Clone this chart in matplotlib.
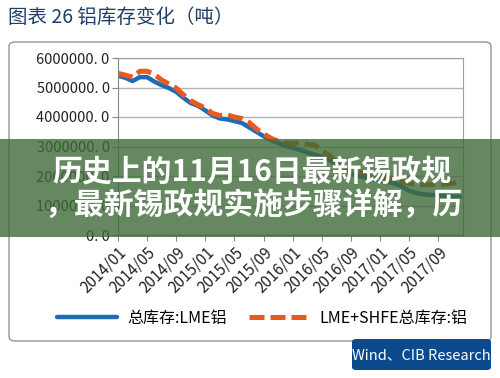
import matplotlib
matplotlib.use("Agg")
import matplotlib.pyplot as plt
from matplotlib.patches import FancyBboxPatch, Rectangle

plt.rcParams['font.family'] = ['Noto Sans CJK SC', 'DejaVu Sans']

# monthly values, 2014/01 .. 2017/12 (tons)
months = list(range(48))
lme = [5.40, 5.33, 5.22, 5.35, 5.35, 5.20, 5.08, 4.98, 4.85, 4.65, 4.47, 4.38,
       4.22, 4.05, 3.95, 3.92, 3.86, 3.80, 3.65, 3.50, 3.35, 3.22, 3.12, 3.02,
       2.95, 2.88, 2.80, 2.73, 2.65, 2.55, 2.42, 2.25, 2.08, 2.00, 1.95, 1.90,
       1.85, 1.80, 1.75, 1.65, 1.50, 1.42, 1.38, 1.36, 1.35, 1.33, 1.30, 1.30]
lme_shfe = [5.48, 5.42, 5.35, 5.55, 5.55, 5.45, 5.25, 5.12, 4.98, 4.75, 4.55, 4.42,
            4.30, 4.12, 4.05, 4.07, 4.00, 3.95, 3.82, 3.60, 3.43, 3.28, 3.18, 3.12,
            3.10, 3.12, 3.08, 3.05, 2.85, 2.70, 2.48, 2.28, 2.15, 2.12, 2.10, 2.05,
            2.00, 1.95, 1.90, 1.82, 1.75, 1.72, 1.70, 1.70, 1.72, 1.72, 1.75, 1.80]
lme = [v * 1e6 for v in lme]
lme_shfe = [v * 1e6 for v in lme_shfe]

tick_pos = list(range(0, 48, 4))
tick_labels = ["2014/01", "2014/05", "2014/09", "2015/01", "2015/05", "2015/09",
               "2016/01", "2016/05", "2016/09", "2017/01", "2017/05", "2017/09"]
y_ticks = [0, 1e6, 2e6, 3e6, 4e6, 5e6, 6e6]

W, H = 500, 378
fig = plt.figure(figsize=(5, 3.78), dpi=100)

# outer rounded frame (behind the axes)
frame = FancyBboxPatch((9 / W, 1 - 341 / H), 482 / W, 299 / H,
                       boxstyle="round,pad=0,rounding_size=0.012",
                       transform=fig.transFigure, fc="white", ec="#8c959e", lw=1,
                       zorder=-5)
fig.patches.append(frame)

src = FancyBboxPatch((352 / W, 1 - 370 / H), 139 / W, 31 / H,
                     boxstyle="round,pad=0,rounding_size=0.008",
                     transform=fig.transFigure, fc="#0b4a8d", ec="none", zorder=-4)
fig.patches.append(src)
fig.text(421 / W, 1 - 355 / H, "Wind、CIB Research", color="white",
         fontsize=10.5, ha="center", va="center")

fig.text(8 / W, 1 - 17 / H, "图表 26 铝库存变化（吨）", color="#1f3f66",
         fontsize=14, va="center")

ax = fig.add_axes([118 / W, 1 - 235 / H, 345 / W, 177 / H])
ax.patch.set_alpha(0)
ax.plot(months, lme, color="#1f6cb4", lw=3.2, solid_capstyle="round",
        label="总库存:LME铝")
ax.plot(months, lme_shfe, color="#ea5a1e", lw=3.6, dashes=(3, 1.2),
        label="LME+SHFE总库存:铝")

ax.set_xlim(0, 47.4)
ax.set_ylim(0, 6e6)
ax.set_yticks(y_ticks)
ax.set_yticklabels([f"{int(v)}. 0" for v in y_ticks], fontsize=10.5, color="#222222")
ax.set_xticks(tick_pos)
ax.set_xticklabels(tick_labels, rotation=45, ha="right", rotation_mode="anchor",
                   fontsize=11, color="#222222")
ax.grid(axis="y", color="#b4b4b4", lw=1)
ax.set_axisbelow(True)
for s in ax.spines.values():
    s.set_color("#a0a0a0")
ax.spines["left"].set_color("#888888")
ax.spines["bottom"].set_color("#888888")
ax.tick_params(axis="both", length=4, color="#888888", pad=2)

fig.legend(loc="center", bbox_to_anchor=(262 / W, 1 - 318 / H), ncol=2,
           frameon=False, fontsize=11.5, handlelength=3.8, columnspacing=1.4,
           handletextpad=0.6)

# green banner overlay with headline text
band = Rectangle((0, 1 - 237 / H), 1, 98 / H, transform=fig.transFigure,
                 fc="#3e6a38", alpha=0.8, zorder=10)
fig.patches.append(band)
fig.text(252 / W, 1 - 172 / H, "历史上的11月16日最新锡政规", color="white",
         fontsize=21.5, fontweight="bold", ha="center", va="center", zorder=11)
fig.text(253 / W, 1 - 205 / H, "，最新锡政规实施步骤详解，历", color="white",
         fontsize=21.5, fontweight="bold", ha="center", va="center", zorder=11)

fig.savefig("out.png", dpi=100)
